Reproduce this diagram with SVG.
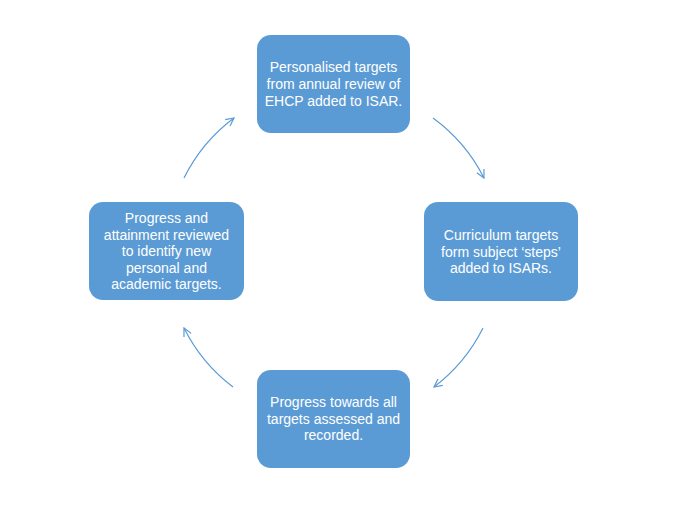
<svg xmlns="http://www.w3.org/2000/svg" width="683" height="505" viewBox="0 0 683 505">
<style>
.box{fill:#5B9BD5;}
.t{fill:#FFFFFF;font-family:"Liberation Sans",Arial,sans-serif;font-size:14px;text-anchor:middle;}
.c{fill:none;stroke:#5B9BD5;stroke-width:1.2;marker-end:url(#ah);}
</style>
<defs>
<marker id="ah" viewBox="0 0 10 10" refX="9" refY="5" markerWidth="10" markerHeight="10" markerUnits="userSpaceOnUse" orient="auto">
<path d="M1,1 L9,5 L1,9" fill="none" stroke="#5B9BD5" stroke-width="1.2"/>
</marker>
</defs>
<rect width="683" height="505" fill="#FFFFFF"/>
<g id="connectors">
<path class="c" d="M433,118 A168,168 0 0 1 484,178"/>
<path class="c" d="M483,328 A168,168 0 0 1 434,387"/>
<path class="c" d="M233,387 A168,168 0 0 1 184,328"/>
<path class="c" d="M184,178 A168,168 0 0 1 234,118"/>
</g>
<g id="node-top">
<rect class="box" x="257" y="35" width="153" height="98" rx="14"/>
<text class="t" x="333.5" y="72">Personalised targets</text>
<text class="t" x="333.5" y="89">from annual review of</text>
<text class="t" x="333.5" y="106">EHCP added to ISAR.</text>
</g>
<g id="node-right">
<rect class="box" x="424" y="202" width="154" height="99" rx="14"/>
<text class="t" x="501" y="240">Curriculum targets</text>
<text class="t" x="501" y="257">form subject ‘steps’</text>
<text class="t" x="501" y="273">added to ISARs.</text>
</g>
<g id="node-bottom">
<rect class="box" x="257" y="370" width="153" height="98" rx="14"/>
<text class="t" x="333.5" y="407">Progress towards all</text>
<text class="t" x="333.5" y="424">targets assessed and</text>
<text class="t" x="333.5" y="440">recorded.</text>
</g>
<g id="node-left">
<rect class="box" x="89" y="202" width="155" height="98" rx="14"/>
<text class="t" x="166.5" y="223">Progress and</text>
<text class="t" x="166.5" y="240">attainment reviewed</text>
<text class="t" x="166.5" y="256">to identify new</text>
<text class="t" x="166.5" y="273">personal and</text>
<text class="t" x="166.5" y="289">academic targets.</text>
</g>
</svg>
